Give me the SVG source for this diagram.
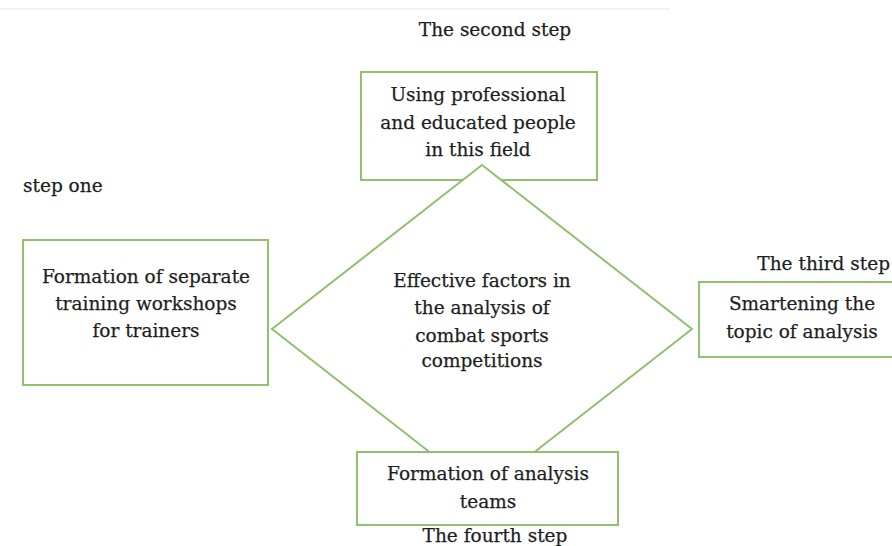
<svg xmlns="http://www.w3.org/2000/svg" width="892" height="546" viewBox="0 0 892 546">
<style>
.box{fill:#fff;stroke:#8fc16e;stroke-width:2}
.t{font-family:"DejaVu Serif",serif;font-size:18.5px;fill:#1e1e1e;stroke:#1e1e1e;stroke-width:0.25;text-anchor:middle}
.lbl{font-family:"DejaVu Serif",serif;font-size:18.5px;fill:#1e1e1e;stroke:#1e1e1e;stroke-width:0.25}
</style>
<rect width="892" height="546" fill="#fff"/>
<line x1="0" y1="9" x2="670" y2="9" stroke="#f2f2f2" stroke-width="2"/>
<g id="labels">
<text class="lbl" x="495" y="36" text-anchor="middle">The second step</text>
<text class="lbl" x="23" y="192">step one</text>
<text class="lbl" x="890" y="270" text-anchor="end">The third step</text>
<text class="lbl" x="495" y="542" text-anchor="middle">The fourth step</text>
</g>
<g id="node-second">
<rect class="box" x="361" y="72" width="236" height="108"/>
<text class="t" x="478" y="101">Using professional</text>
<text class="t" x="478" y="129">and educated people</text>
<text class="t" x="478" y="156">in this field</text>
</g>
<g id="node-center">
<polygon class="box" points="482,165 692,329 482,493 272,329"/>
<text class="t" x="482" y="287">Effective factors in</text>
<text class="t" x="482" y="314">the analysis of</text>
<text class="t" x="482" y="342">combat sports</text>
<text class="t" x="482" y="367">competitions</text>
</g>
<g id="node-first">
<rect class="box" x="23" y="240" width="245" height="145"/>
<text class="t" x="146" y="283">Formation of separate</text>
<text class="t" x="146" y="310">training workshops</text>
<text class="t" x="146" y="337">for trainers</text>
</g>
<g id="node-third">
<rect class="box" x="699" y="282" width="200" height="75"/>
<text class="t" x="802" y="310">Smartening the</text>
<text class="t" x="802" y="338">topic of analysis</text>
</g>
<g id="node-fourth">
<rect class="box" x="357" y="452" width="261" height="73"/>
<text class="t" x="488" y="480">Formation of analysis</text>
<text class="t" x="488" y="508">teams</text>
</g>
<g id="connectors"></g>
</svg>
